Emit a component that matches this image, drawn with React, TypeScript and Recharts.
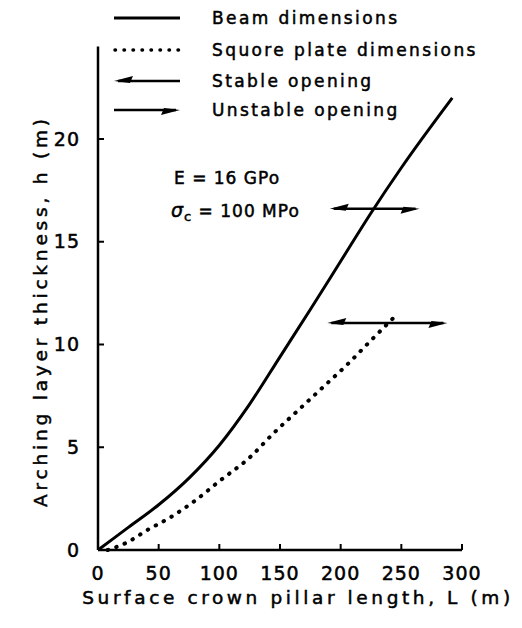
import React from 'react';
import { LineChart, Line, XAxis, YAxis, ReferenceLine } from 'recharts';

// Beam dimensions (solid curve)
const beamLength = [0, 25, 50, 75, 100, 125, 150, 175, 200, 225, 250, 292];
const beamThickness = [0, 1.1, 2.2, 3.5, 5.1, 7.1, 9.4, 11.7, 14.05, 16.4, 18.6, 22.0];

// Square plate dimensions (dotted curve)
const plateLength = [8, 25, 40, 60, 80, 100, 125, 145, 165, 185, 205, 225, 247];
const plateThickness = [0, 0.4, 0.95, 1.6, 2.4, 3.35, 4.5, 5.7, 6.8, 7.9, 9.0, 10.2, 11.5];

// Stable / unstable opening double arrows
const arrowThickness = [16.6, 11.05];
const arrowFrom = [191, 189];
const arrowTo = [265, 288];

const xTicks = [0, 50, 100, 150, 200, 250, 300];
const yTicks = [0, 5, 10, 15, 20];
const legendLabels = ['Beam dimensions', 'Squore plate dimensions', 'Stable opening', 'Unstable opening'];

const beamData = beamLength.map((L, i) => ({ L, h: beamThickness[i] }));
const plateData = plateLength.map((L, i) => ({ L, h: plateThickness[i] }));

const FONT = '"DejaVu Sans", Verdana, sans-serif';

function DoubleArrow(props: any) {
  const { x1, y1, x2 } = props;
  const y = y1;
  return (
    <g>
      <line x1={x1 + 4} y1={y} x2={x2 - 4} y2={y} stroke="#000" strokeWidth={2.5} />
      <polygon points={`${x1},${y} ${x1 + 19},${y - 5} ${x1 + 16},${y + 2}`} fill="#000" />
      <polygon points={`${x2},${y} ${x2 - 19},${y + 5} ${x2 - 16},${y - 2}`} fill="#000" />
    </g>
  );
}

function LegendSymbol({ index }: { index: number }) {
  const y = 11;
  if (index === 0) return <line x1={2} y1={y} x2={68} y2={y} stroke="#000" strokeWidth={3} />;
  if (index === 1)
    return (
      <line x1={3} y1={y} x2={68} y2={y} stroke="#000" strokeWidth={3.5} strokeDasharray="0.5 8.5" strokeLinecap="round" />
    );
  if (index === 2)
    return (
      <g>
        <line x1={6} y1={y} x2={68} y2={y} stroke="#000" strokeWidth={2.5} />
        <polygon points={`2,${y} 21,${y - 5} 18,${y + 2}`} fill="#000" />
      </g>
    );
  return (
    <g>
      <line x1={2} y1={y} x2={64} y2={y} stroke="#000" strokeWidth={2.5} />
      <polygon points={`68,${y} 49,${y + 5} 52,${y - 2}`} fill="#000" />
    </g>
  );
}

const textStroke = { stroke: '#000', strokeWidth: 0.5 };

export default function App() {
  const rowTops = [-1, 31, 62, 91];
  return (
    <div style={{ position: 'relative', width: 514, height: 620, background: '#fff' }}>
      <LineChart width={514} height={620} margin={{ top: 38.5, right: 60, bottom: 18, left: 30 }}>
        <XAxis
          dataKey="L"
          type="number"
          domain={[0, 300]}
          ticks={xTicks}
          height={60}
          axisLine={{ stroke: '#000', strokeWidth: 2.5 }}
          tickLine={{ stroke: '#000', strokeWidth: 2 }}
          tickSize={-6}
          tickMargin={23}
          tick={{ fontSize: 19, fill: '#000', fontFamily: FONT, letterSpacing: 1, ...textStroke }}
          label={{
            content: () => (
              <text
                x={290}
                y={589}
                textAnchor="middle"
                dominantBaseline="central"
                fontSize={18.5}
                fontFamily={FONT}
                letterSpacing={3.6}
                fill="#000"
                {...textStroke}
              >
                Surface crown pillar length, L (m)
              </text>
            ),
          }}
        />
        <YAxis
          type="number"
          domain={[0, 24.5]}
          ticks={yTicks}
          width={60}
          axisLine={{ stroke: '#000', strokeWidth: 2.5 }}
          tickLine={{ stroke: '#000', strokeWidth: 2 }}
          tickSize={-6}
          tickMargin={24}
          tick={{ fontSize: 19, fill: '#000', fontFamily: FONT, letterSpacing: 1, ...textStroke }}
          label={{
            content: () => (
              <text
                x={32}
                y={303}
                transform="rotate(-90 32 303)"
                textAnchor="middle"
                dominantBaseline="central"
                fontSize={18.5}
                fontFamily={FONT}
                letterSpacing={3.8}
                fill="#000"
                {...textStroke}
              >
                Arching layer thickness, h (m)
              </text>
            ),
          }}
        />
        <Line
          data={beamData}
          dataKey="h"
          type="monotone"
          stroke="#000"
          strokeWidth={3}
          dot={false}
          isAnimationActive={false}
        />
        <Line
          data={plateData}
          dataKey="h"
          type="monotone"
          stroke="#000"
          strokeWidth={4}
          strokeDasharray="0.5 8.5"
          strokeLinecap="round"
          dot={false}
          isAnimationActive={false}
        />
        {arrowThickness.map((h, i) => (
          <ReferenceLine
            key={i}
            segment={[
              { x: arrowFrom[i], y: h },
              { x: arrowTo[i], y: h },
            ]}
            shape={DoubleArrow}
            ifOverflow="visible"
          />
        ))}
      </LineChart>

      <div
        style={{
          position: 'absolute',
          left: 104,
          top: 0,
          fontFamily: FONT,
          fontSize: 17,
          letterSpacing: 2.4,
          color: '#000',
          WebkitTextStroke: '0.5px #000',
        }}
      >
        {legendLabels.map((t, i) => (
          <div
            key={t}
            style={{ position: 'absolute', left: 0, top: rowTops[i], height: 22, display: 'flex', alignItems: 'center', whiteSpace: 'nowrap' }}
          >
            <svg width={70} height={22} style={{ display: 'block' }}>
              <LegendSymbol index={i} />
            </svg>
            <span style={{ marginLeft: 30 }}>{t}</span>
          </div>
        ))}
      </div>

      <div
        style={{
          position: 'absolute',
          left: 166,
          top: 160,
          fontFamily: FONT,
          fontSize: 17,
          letterSpacing: 1,
          color: '#000',
          whiteSpace: 'nowrap',
          lineHeight: '20px',
          WebkitTextStroke: '0.5px #000',
        }}
      >
        <div>E = 16 GPo</div>
        <div style={{ marginTop: 12, marginLeft: -3 }}>
          <span style={{ fontStyle: 'italic', fontSize: 19 }}>σ</span>
          <sub style={{ fontSize: 13 }}>c</sub> = 100 MPo
        </div>
      </div>
    </div>
  );
}
